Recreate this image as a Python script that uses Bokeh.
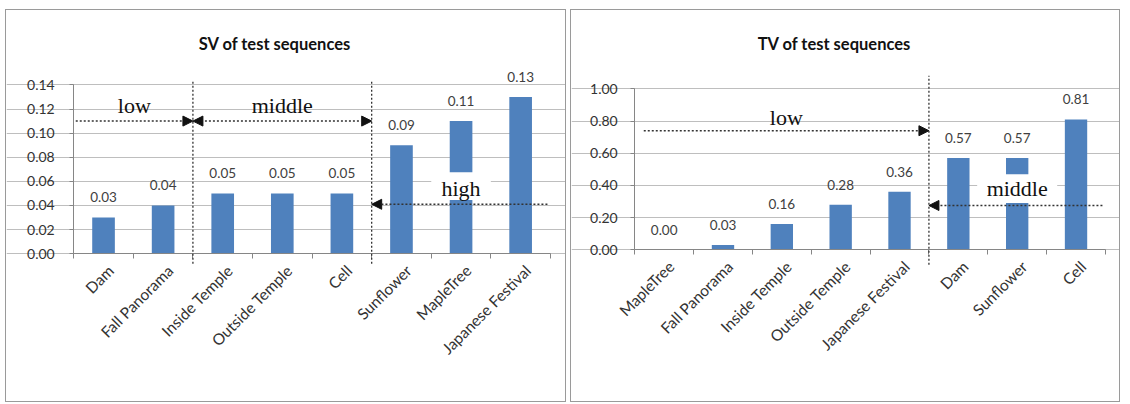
import math

from bokeh.core.properties import value
from bokeh.embed import file_html
from bokeh.layouts import row
from bokeh.models import (Arrow, ColumnDataSource, FixedTicker, Label, LabelSet,
                          NormalHead, NumeralTickFormatter, Range1d)
from bokeh.plotting import figure
from bokeh.resources import INLINE

# ---- SV (spatial variation) ----
sv_names = ["Dam", "Fall Panorama", "Inside Temple", "Outside Temple", "Cell",
            "Sunflower", "MapleTree", "Japanese Festival"]
sv_values = [0.03, 0.04, 0.05, 0.05, 0.05, 0.09, 0.11, 0.13]
sv_ticks = [0.00, 0.02, 0.04, 0.06, 0.08, 0.10, 0.12, 0.14]
sv_bounds = [2, 5]            # class borders, in category slots
sv_classes = ["low", "middle", "high"]

# ---- TV (temporal variation) ----
tv_names = ["MapleTree", "Fall Panorama", "Inside Temple", "Outside Temple",
            "Japanese Festival", "Dam", "Sunflower", "Cell"]
tv_values = [0.00, 0.03, 0.16, 0.28, 0.36, 0.57, 0.57, 0.81]
tv_ticks = [0.00, 0.20, 0.40, 0.60, 0.80, 1.00]
tv_bounds = [5]
tv_classes = ["low", "middle"]

BAR = "#4F81BD"
AXIS = "#868686"
GRID = "#BEBEBE"
INK = "#333333"
SANS = "Lato"
SERIF = "Liberation Serif"
DOT = "2 2"
LABEL_SHIFT = 0.12            # rotated names end slightly right of slot centre


def head():
    return NormalHead(size=10, fill_color="#111111", line_color="#111111", line_width=1)


def make_panel(title, names, values, ticks, fig_w, fig_h, b_left, b_right,
               zero_y, grid_h, margin, title_px, ylab_standoff):
    """Bar panel.  The frame covers the whole panel, so texts and marks
    outside the value grid stay inside it; both axes are pinned at zero
    and the grid is bounded to the category slots."""
    cw, ch = fig_w - 2, fig_h - 2          # drawing area inside the border
    n = len(names)
    y_max = ticks[-1]
    frame_w = cw - b_left - b_right
    ux = n / frame_w          # data units per pixel, x
    uy = y_max / grid_h       # data units per pixel, y

    p = figure(width=fig_w, height=fig_h,
               x_range=Range1d(-b_left * ux, n + b_right * ux),
               y_range=Range1d(-(ch - zero_y) * uy, zero_y * uy),
               min_border=0,
               output_backend="svg", toolbar_location=None, tools="",
               margin=margin, styles={"border": "1px solid #9A9A9A"},
               background_fill_color="white", border_fill_color="white",
               outline_line_color=None)

    # value axis at x = 0, limited to the gridded part
    yt = FixedTicker(ticks=ticks)
    ya = p.yaxis[0]
    ya.fixed_location = 0
    ya.ticker = yt
    ya.bounds = (0, y_max)
    ya.formatter = NumeralTickFormatter(format="0.00")
    ya.axis_line_color = AXIS
    ya.major_tick_line_color = AXIS
    ya.major_tick_out = 4
    ya.major_tick_in = 0
    ya.minor_tick_line_color = None
    ya.major_label_standoff = ylab_standoff
    ya.major_label_text_font = SANS
    ya.major_label_text_font_size = "14px"
    ya.major_label_text_color = INK
    p.ygrid.ticker = yt
    p.ygrid.bounds = (0, n)
    p.ygrid.grid_line_color = GRID
    p.xgrid.visible = False

    # category axis at y = 0: names per slot, tick marks between slots
    centers = [i + 0.5 for i in range(n)]
    spots = [round(c + LABEL_SHIFT, 3) for c in centers]
    xa = p.xaxis[0]
    xa.fixed_location = 0
    xa.bounds = (0, n)
    xa.ticker = FixedTicker(ticks=spots, minor_ticks=list(range(n + 1)))
    xa.major_label_overrides = {s: nm for s, nm in zip(spots, names)}
    xa.axis_line_color = AXIS
    xa.major_tick_line_color = None
    xa.major_tick_out = 0
    xa.major_tick_in = 0
    xa.minor_tick_line_color = AXIS
    xa.minor_tick_out = 5
    xa.minor_tick_in = 0
    xa.major_label_orientation = math.pi / 4
    xa.major_label_standoff = 9
    xa.major_label_text_font = SANS
    xa.major_label_text_font_size = "15.5px"
    xa.major_label_text_color = INK

    p.vbar(x=centers, top=values, width=0.38, fill_color=BAR, line_color=None)

    src = ColumnDataSource(dict(
        x=centers,
        y=[v + 20 * uy for v in values],
        txt=["%.2f" % v for v in values]))
    p.add_layout(LabelSet(x="x", y="y", text="txt", source=src,
                          text_align="center", text_baseline="middle",
                          text_font=value(SANS), text_font_size=value("13.5px"),
                          text_color=value("#404040")))

    p.add_layout(Label(x=(cw / 2 - 12 - b_left) * ux, y=y_max + title_px * uy,
                       text=title, text_font=SANS, text_font_style="bold",
                       text_font_size="16.5px", text_color="#111111",
                       text_align="center", text_baseline="middle"))
    return p, ux, uy


def vline(p, x, y_lo, y_hi):
    p.add_layout(Arrow(end=None, x_start=x, x_end=x, y_start=y_lo, y_end=y_hi,
                       line_color="#333333", line_width=1.3, line_dash=DOT))


def harrow(p, x0, x1, y, both=False):
    p.add_layout(Arrow(start=head() if both else None, end=head(),
                       x_start=x0, x_end=x1, y_start=y, y_end=y,
                       line_color="#333333", line_width=1.4, line_dash=DOT))


def class_label(p, text, x, y):
    p.add_layout(Label(x=x, y=y, text=text, text_font=SERIF,
                       text_font_size="22px", text_color="#111111",
                       text_align="center", text_baseline="middle"))


# ---------- left panel ----------
sv, ux, uy = make_panel("SV of test sequences", sv_names, sv_values, sv_ticks,
                        561, 393, 67, 17, 242, 168, (9, 0, 0, 5), 41, 15)
for b in sv_bounds:
    vline(sv, b, -10 * uy, sv_ticks[-1] + 4 * uy)
# white patch behind the "high" tag
sv.quad(left=6.0, right=7.0, bottom=0.0445, top=0.0675,
        fill_color="white", line_color=None)
low_start = 2 * ux
harrow(sv, low_start, sv_bounds[0], 0.11)
harrow(sv, sv_bounds[0], sv_bounds[1], 0.11, both=True)
harrow(sv, len(sv_names) - 3 * ux, sv_bounds[1], 0.041)
class_label(sv, sv_classes[0], (low_start + sv_bounds[0]) / 2, 0.123)
class_label(sv, sv_classes[1], (sv_bounds[0] + sv_bounds[1]) / 2, 0.123)
class_label(sv, sv_classes[2], (sv_bounds[1] + len(sv_names)) / 2, 0.054)

# ---------- right panel ----------
tv, ux, uy = make_panel("TV of test sequences", tv_names, tv_values, tv_ticks,
                        550, 393, 63, 16, 238, 160, (9, 0, 0, 4), 45, 13)
for b in tv_bounds:
    vline(tv, b, -15 * uy, tv_ticks[-1] + 13 * uy)
tv.quad(left=5.82, right=7.18, bottom=0.29, top=0.47,
        fill_color="white", line_color=None)
low_start = 9 * ux
harrow(tv, low_start, tv_bounds[0], 0.74)
harrow(tv, len(tv_names) - 3 * ux, tv_bounds[0], 0.275)
class_label(tv, tv_classes[0], (low_start + tv_bounds[0]) / 2, 0.82)
class_label(tv, tv_classes[1], (tv_bounds[0] + len(tv_names)) / 2, 0.38)

layout = row(sv, tv, spacing=0)
open("out.html", "w").write(file_html(layout, INLINE))
